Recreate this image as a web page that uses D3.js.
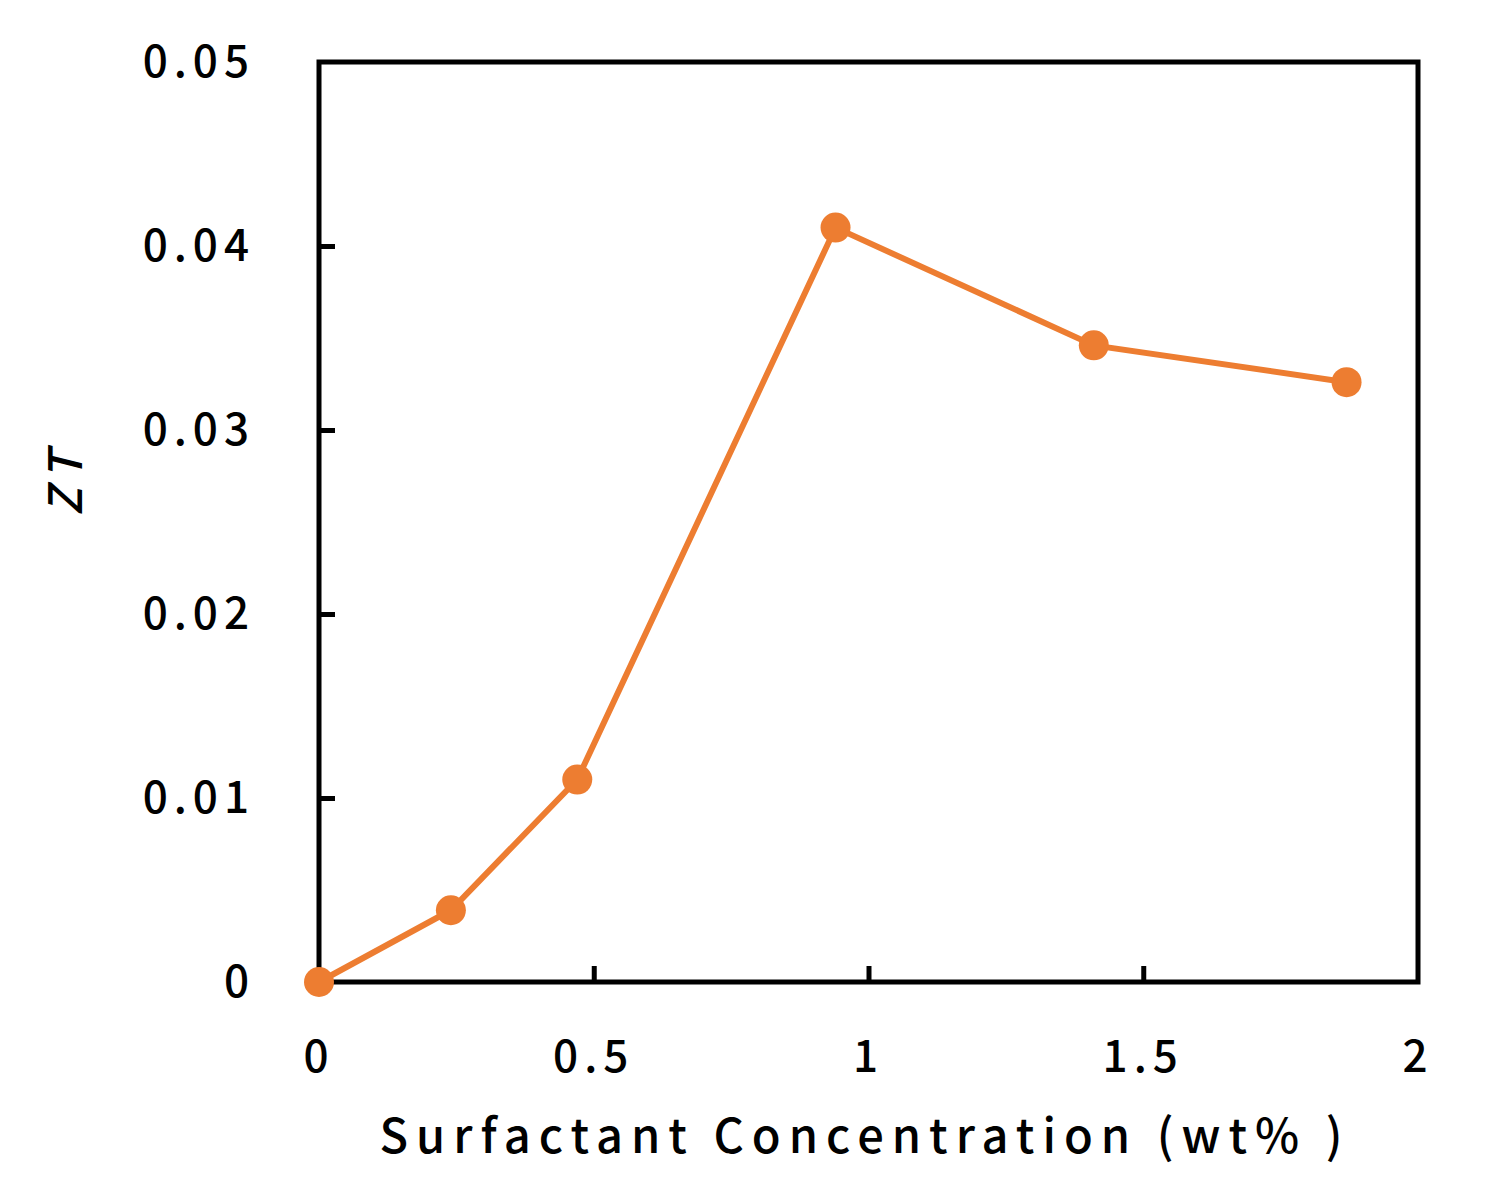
<!DOCTYPE html>
<html><head><meta charset="utf-8">
<script src="https://cdn.jsdelivr.net/npm/d3@7"></script>
<style>body{margin:0;background:#fff}text{font-family:"Noto Sans CJK JP","DejaVu Sans",sans-serif;font-weight:500}</style>
</head><body><svg id="c" width="1500" height="1200"></svg>
<script>
// data
const conc = [0, 0.24, 0.47, 0.94, 1.41, 1.87];
const zt = [0, 0.0039, 0.011, 0.041, 0.0346, 0.0326];
const xTicks = [0, 0.5, 1, 1.5, 2];
const yTicks = [0, 0.01, 0.02, 0.03, 0.04, 0.05];

const svg = d3.select('#c');
const L = 319, R = 1418, T = 62, B = 982;
const x = d3.scaleLinear().domain([0, 2]).range([L, R]);
const y = d3.scaleLinear().domain([0, 0.05]).range([B, T]);
const orange = '#ed7d31';

// inward ticks
svg.append('g').attr('transform', `translate(0,${B})`)
  .call(d3.axisTop(x).tickValues(xTicks.slice(1, -1)).tickSize(16).tickFormat(''))
  .call(g => g.select('.domain').remove())
  .call(g => g.selectAll('line').attr('stroke', '#000').attr('stroke-width', 5));
svg.append('g').attr('transform', `translate(${L},0)`)
  .call(d3.axisRight(y).tickValues(yTicks.slice(1, -1)).tickSize(16).tickFormat(''))
  .call(g => g.select('.domain').remove())
  .call(g => g.selectAll('line').attr('stroke', '#000').attr('stroke-width', 5));

svg.append('rect').attr('x', L).attr('y', T).attr('width', R - L).attr('height', B - T)
  .attr('fill', 'none').attr('stroke', '#000').attr('stroke-width', 5);

// tick labels
svg.selectAll('.xl').data(xTicks).join('text')
  .attr('x', d => x(d)).attr('y', 1072).attr('text-anchor', 'middle')
  .attr('font-size', 44).attr('letter-spacing', 6)
  .text(d => d === 0 ? '0' : d.toString());
svg.selectAll('.yl').data(yTicks).join('text')
  .attr('x', 255).attr('y', d => y(d) + 15).attr('text-anchor', 'end')
  .attr('font-size', 44).attr('letter-spacing', 6)
  .text(d => d === 0 ? '0' : d.toFixed(2));

// axis titles
svg.append('text').attr('x', 865).attr('y', 1153).attr('text-anchor', 'middle')
  .attr('font-size', 47).attr('letter-spacing', 8)
  .text('Surfactant Concentration (wt% )');
svg.append('text').attr('transform', 'translate(82,480) rotate(-90)')
  .attr('text-anchor', 'middle').attr('font-size', 46).attr('font-style', 'italic')
  .attr('letter-spacing', 8).text('ZT');

// series
const pts = conc.map((c, i) => [c, zt[i]]);
svg.append('path').datum(pts)
  .attr('d', d3.line().x(d => x(d[0])).y(d => y(d[1])))
  .attr('fill', 'none').attr('stroke', orange).attr('stroke-width', 6);
svg.selectAll('.pt').data(pts).join('circle')
  .attr('cx', d => x(d[0])).attr('cy', d => y(d[1])).attr('r', 15).attr('fill', orange);
</script></body></html>
